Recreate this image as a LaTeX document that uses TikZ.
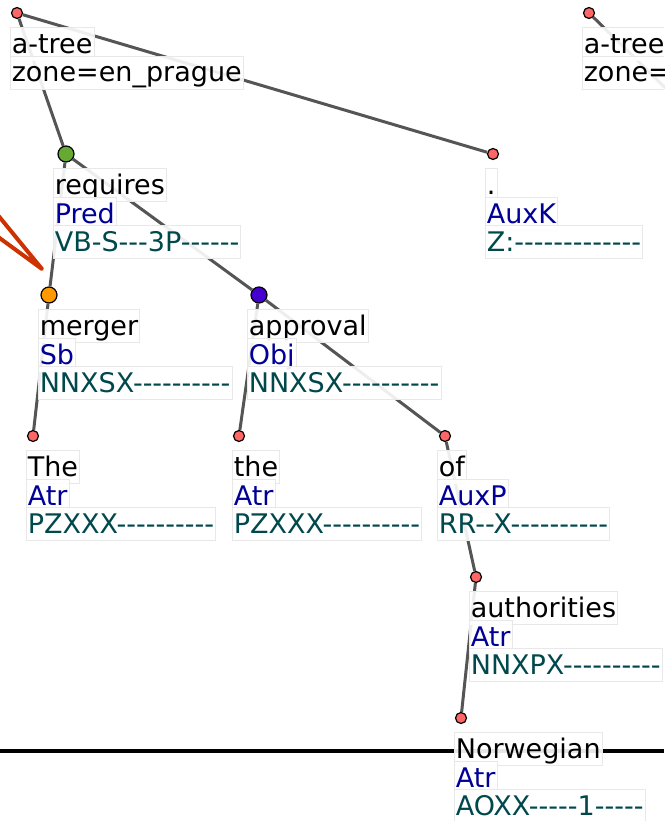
\documentclass[tikz,border=0pt]{standalone}
\usepackage{fontspec}
\newfontfamily\labfont{DejaVu Sans}
\definecolor{edgegray}{RGB}{85,85,85}
\definecolor{nodered}{RGB}{255,102,102}
\definecolor{nodegreen}{RGB}{102,170,51}
\definecolor{nodeorange}{RGB}{255,153,0}
\definecolor{nodepurple}{RGB}{68,0,204}
\definecolor{afunblue}{RGB}{0,0,150}
\definecolor{tagteal}{RGB}{0,72,76}
\definecolor{corefred}{RGB}{204,51,0}
\definecolor{boxline}{RGB}{232,232,232}

% one label line: name, left x, baseline y, colour, text
\newcommand{\labline}[5]{%
  \node[lbox,text=#4] (#1) at (#2,#3) {#5};}
% three-line token label: name, left x, node row y, form, afun, tag
\newcommand{\toklabel}[6]{%
  \labline{#1-form}{#2}{#3+40.5}{black}{#4}
  \labline{#1-afun}{#2}{#3+69}{afunblue}{#5}
  \labline{#1-tag}{#2}{#3+97.5}{tagteal}{#6}}

\begin{document}
\begin{tikzpicture}[x=1pt,y=-1pt,
  tnode/.style={circle,draw=black,line width=1.2pt,inner sep=0pt},
  small/.style={tnode,minimum size=11pt,fill=nodered},
  big/.style={tnode,minimum size=16pt},
  edge/.style={draw=edgegray,line width=3pt},
  lbox/.style={anchor=base west,font=\labfont\fontsize{27}{28}\selectfont,
    fill=white,fill opacity=0.9,text opacity=1,draw=boxline,line width=0.6pt,
    inner xsep=1.5pt,inner ysep=0pt,text height=26pt,text depth=7pt}]
\clip (0,0) rectangle (664,821);

% sentence separator
\coordinate (sepL) at (0,751);
\coordinate (sepR) at (664,751);
\draw[line width=3.5pt] (sepL) -- (sepR);

% tree nodes
\node[small] (root) at (17,13) {};
\node[big,fill=nodegreen] (requires) at (66,154) {};
\node[small] (dot) at (493,154) {};
\node[big,fill=nodeorange] (merger) at (49,295) {};
\node[big,fill=nodepurple] (approval) at (259,295) {};
\node[small] (The) at (33,436) {};
\node[small] (the) at (239,436) {};
\node[small] (of) at (445,436) {};
\node[small] (authorities) at (476,577) {};
\node[small] (Norwegian) at (461,718) {};
\node[small] (root2) at (589,13) {};
\coordinate (root2child) at (700,122);

% dependency edges
\draw[edge] (root) -- (requires);
\draw[edge] (root) -- (dot);
\draw[edge] (requires) -- (merger);
\draw[edge] (requires) -- (approval);
\draw[edge] (merger) -- (The);
\draw[edge] (approval) -- (the);
\draw[edge] (approval) -- (of);
\draw[edge] (of) -- (authorities);
\draw[edge] (authorities) -- (Norwegian);
\draw[edge] (root2) -- (root2child);

% coreference arrow entering from the left
\coordinate (corefA) at (-21,192);
\coordinate (corefTip) at (42,269);
\coordinate (corefB) at (-21,223);
\draw[corefred,line width=4pt,line join=round,line cap=round]
  (corefA) -- (corefTip) -- (corefB);

% labels
\labline{root-l1}{10}{53.5}{black}{a-tree}
\labline{root-l2}{10}{82}{black}{zone=en\_prague}
\labline{root2-l1}{582}{53.5}{black}{a-tree}
\labline{root2-l2}{582}{82}{black}{zone=en\_prague}
\toklabel{requires}{53}{154}{requires}{Pred}{VB-S---3P------}
\toklabel{dot}{485}{154}{.}{AuxK}{Z:-------------}
\toklabel{merger}{38}{295}{merger}{Sb}{NNXSX----------}
\toklabel{approval}{247}{295}{approval}{Obj}{NNXSX----------}
\toklabel{The}{26}{436}{The}{Atr}{PZXXX----------}
\toklabel{the}{232}{436}{the}{Atr}{PZXXX----------}
\toklabel{of}{437}{436}{of}{AuxP}{RR--X----------}
\toklabel{authorities}{469}{577}{authorities}{Atr}{NNXPX----------}
\toklabel{Norwegian}{454}{718}{Norwegian}{Atr}{AOXX-----1-----}
\end{tikzpicture}
\end{document}
